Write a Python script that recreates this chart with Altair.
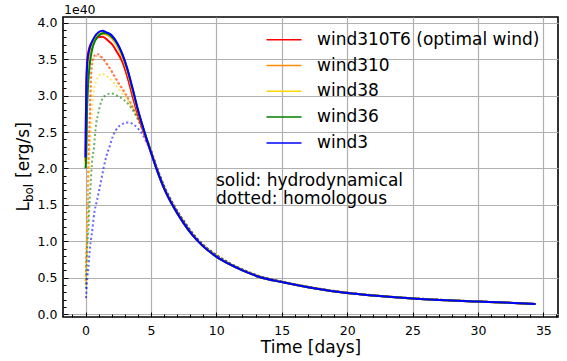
import altair as alt
import pandas as pd

names = ["wind310T6 (optimal wind)", "wind310", "wind38", "wind36", "wind3"]
colors = ["#ff0000", "#ff8c00", "#ffd700", "#008000", "#0000ff"]

# late-time part shared by all models (days, 1e40 erg/s)
t_late = [5.5, 6.0, 6.7, 7.5, 8.2, 9.0, 10, 11, 12, 13.3, 15, 17, 20, 22, 25, 28, 30, 32, 34.4]
L_late_hydro = [1.96, 1.73, 1.48, 1.25, 1.08, 0.93, 0.79, 0.685, 0.60, 0.51, 0.44, 0.37, 0.29, 0.255, 0.215, 0.187, 0.172, 0.158, 0.138]
L_late_homol = [1.99, 1.76, 1.51, 1.28, 1.105, 0.95, 0.81, 0.70, 0.612, 0.52, 0.448, 0.375, 0.295, 0.258, 0.218, 0.189, 0.174, 0.159, 0.139]

# hydrodynamical (solid), early part
red_t = [0, 0.03, 0.07, 0.12, 0.2, 0.3, 0.45, 0.7, 0.95, 1.3, 1.7, 2.0, 2.4, 2.8, 3.2, 3.6, 4.0, 4.5, 5.0]
red_L = [2.10, 2.70, 3.20, 3.45, 3.58, 3.66, 3.72, 3.77, 3.80, 3.81, 3.76, 3.71, 3.60, 3.47, 3.26, 2.99, 2.74, 2.47, 2.22]
orange_t = [0, 0.04, 0.08, 0.14, 0.25, 0.4, 0.6, 0.9, 1.25, 1.6, 2.0, 2.4, 2.8, 3.2, 3.6, 4.0, 4.5, 5.0]
orange_L = [2.10, 2.40, 2.90, 3.25, 3.50, 3.65, 3.75, 3.82, 3.85, 3.84, 3.79, 3.69, 3.54, 3.33, 3.06, 2.79, 2.50, 2.23]
yellow_t = [0, 0.05, 0.1, 0.17, 0.28, 0.45, 0.7, 1.0, 1.3, 1.6, 2.0, 2.4, 2.8, 3.2, 3.6, 4.0, 4.5, 5.0]
yellow_L = [2.05, 2.30, 2.80, 3.20, 3.45, 3.63, 3.76, 3.83, 3.86, 3.85, 3.80, 3.70, 3.55, 3.34, 3.07, 2.80, 2.50, 2.23]
green_t = [0, 0.06, 0.12, 0.2, 0.32, 0.5, 0.75, 1.05, 1.4, 1.7, 2.0, 2.4, 2.8, 3.2, 3.6, 4.0, 4.5, 5.0]
green_L = [2.00, 2.20, 2.80, 3.15, 3.42, 3.63, 3.76, 3.83, 3.86, 3.85, 3.81, 3.72, 3.57, 3.36, 3.09, 2.81, 2.51, 2.23]
blue_t = [0, 0.03, 0.07, 0.12, 0.2, 0.3, 0.45, 0.7, 1.0, 1.3, 1.6, 2.0, 2.4, 2.8, 3.2, 3.6, 4.0, 4.5, 5.0]
blue_L = [2.15, 2.70, 3.15, 3.40, 3.55, 3.64, 3.72, 3.81, 3.87, 3.89, 3.87, 3.83, 3.73, 3.58, 3.37, 3.10, 2.81, 2.50, 2.22]

# homologous (dotted), early part
red_h_t = [0.02, 0.06, 0.1, 0.18, 0.25, 0.33, 0.43, 0.56, 0.75, 0.94, 1.32, 1.7, 2.09, 2.47, 2.98, 3.5, 4.0, 4.5, 5.0]
red_h_L = [0.45, 0.80, 0.95, 1.64, 2.20, 2.73, 3.30, 3.50, 3.56, 3.57, 3.51, 3.42, 3.31, 3.19, 3.05, 2.88, 2.70, 2.48, 2.25]
orange_h_t = [0.02, 0.06, 0.1, 0.18, 0.25, 0.33, 0.43, 0.56, 0.75, 0.94, 1.32, 1.7, 2.09, 2.47, 2.98, 3.5, 4.0, 4.5, 5.0]
orange_h_L = [0.40, 0.75, 0.92, 1.60, 2.15, 2.68, 3.25, 3.47, 3.54, 3.55, 3.50, 3.41, 3.30, 3.18, 3.04, 2.87, 2.69, 2.47, 2.25]
yellow_h_t = [0.03, 0.08, 0.13, 0.2, 0.3, 0.43, 0.58, 0.84, 1.22, 1.7, 2.2, 2.72, 3.24, 3.7, 4.2, 4.7, 5.0]
yellow_h_L = [0.45, 0.80, 1.27, 1.70, 2.14, 2.55, 2.98, 3.21, 3.30, 3.26, 3.17, 3.05, 2.94, 2.80, 2.62, 2.40, 2.25]
green_h_t = [0.03, 0.07, 0.12, 0.23, 0.3, 0.4, 0.48, 0.64, 0.81, 0.94, 1.2, 1.5, 1.96, 2.6, 3.24, 3.75, 4.2, 4.7, 5.0]
green_h_L = [0.35, 0.57, 0.87, 1.20, 1.51, 1.80, 2.05, 2.28, 2.61, 2.73, 2.92, 3.00, 3.03, 2.98, 2.89, 2.76, 2.60, 2.40, 2.25]
blue_h_t = [0.04, 0.07, 0.1, 0.15, 0.23, 0.28, 0.35, 0.43, 0.54, 0.61, 0.69, 0.81, 0.94, 1.07, 1.2, 1.4, 1.58, 1.84, 2.09, 2.34, 2.72, 3.24, 3.62, 4.0, 4.38, 4.64, 5.0]
blue_h_L = [0.22, 0.30, 0.40, 0.52, 0.65, 0.78, 0.92, 1.04, 1.18, 1.30, 1.41, 1.51, 1.61, 1.72, 1.84, 2.02, 2.16, 2.30, 2.44, 2.53, 2.60, 2.63, 2.61, 2.55, 2.46, 2.37, 2.24]

x_major = [0, 5, 10, 15, 20, 25, 30, 35]
x_minor = list(range(-1, 37))
y_major = [0.0, 0.5, 1.0, 1.5, 2.0, 2.5, 3.0, 3.5, 4.0]
y_minor = [round(0.1 * k, 1) for k in range(41)]

note = "solid: hydrodynamical\ndotted: homologous"
offset_label = "1e40"

W, H = 495, 300
FONT = "DejaVu Sans"
BIG = 17


def series(name, t_early, L_early, L_late):
    t = list(t_early) + t_late
    L = list(L_early) + L_late
    return pd.DataFrame({"name": name, "t": t, "L": L, "i": range(len(t))})


hydro = pd.concat([
    series(names[0], red_t, red_L, L_late_hydro),
    series(names[1], orange_t, orange_L, L_late_hydro),
    series(names[2], yellow_t, yellow_L, L_late_hydro),
    series(names[3], green_t, green_L, L_late_hydro),
    series(names[4], blue_t, blue_L, L_late_hydro),
])
homol = pd.concat([
    series(names[0], red_h_t, red_h_L, L_late_homol),
    series(names[1], orange_h_t, orange_h_L, L_late_homol),
    series(names[2], yellow_h_t, yellow_h_L, L_late_homol),
    series(names[3], green_h_t, green_h_L, L_late_homol),
    series(names[4], blue_h_t, blue_h_L, L_late_homol),
])

xs = alt.Scale(domain=[-1.72, 36.12], nice=False, zero=False)
ys = alt.Scale(domain=[-0.04, 4.08], nice=False, zero=False)
cs = alt.Scale(domain=names, range=colors)

x_main = alt.Axis(orient="bottom", values=x_major, grid=True, ticks=False, domain=False,
                  labelPadding=7, labelFontSize=12.5, labelColor="black", labelFlush=False,
                  title="Time [days]", titleFontSize=BIG, titleFontWeight="normal",
                  titleColor="black", titlePadding=3, gridColor="#b0b0b0", gridWidth=1.2)
y_main = alt.Axis(orient="left", values=y_major, format=".1f", grid=True, ticks=False,
                  domain=False, labelPadding=6, labelFontSize=12.5, labelColor="black",
                  labelFlush=False, title=None, gridColor="#b0b0b0", gridWidth=1.2)
x_ticks = alt.Axis(orient="top", offset=-H, values=x_minor, labels=False, grid=False,
                   domain=False, ticks=True, tickColor="black", tickWidth=1, title=None,
                   tickSize={"condition": {"test": "datum.value % 5 === 0", "value": 5}, "value": 3})
y_ticks = alt.Axis(orient="right", offset=-W, values=y_minor, labels=False, grid=False,
                   domain=False, ticks=True, tickColor="black", tickWidth=1, title=None,
                   tickSize={"condition": {"test": "abs(datum.value*2 - round(datum.value*2)) < 0.001",
                                           "value": 5}, "value": 3})


def make_legend():
    return alt.Legend(orient="none", legendX=212.5, legendY=14.2, title=None,
                      symbolType="M-2.5,0H2.5", symbolSize=196, symbolStrokeWidth=1.5,
                      symbolDash=[40, 0], labelFontSize=BIG, labelOffset=24.5, rowPadding=7.8,
                      padding=0, labelLimit=400, labelColor="black", labelFont=FONT,
                      symbolOpacity=1)


dotted = alt.Chart(homol).mark_line(strokeDash=[2, 2.5], strokeWidth=2, opacity=0.6,
                                    interpolate="monotone").encode(
    x=alt.X("t:Q", scale=xs, axis=x_ticks),
    y=alt.Y("L:Q", scale=ys, axis=y_ticks),
    color=alt.Color("name:N", scale=cs, legend=make_legend()),
    order="i:Q",
)

solid = alt.Chart(hydro).mark_line(strokeWidth=2, interpolate="monotone").encode(
    x=alt.X("t:Q", scale=xs, axis=x_main),
    y=alt.Y("L:Q", scale=ys, axis=y_main),
    color=alt.Color("name:N", scale=cs, legend=make_legend()),
    order="i:Q",
)

note_layer = alt.Chart(pd.DataFrame({"txt": [note]})).mark_text(
    align="left", baseline="alphabetic", fontSize=BIG, lineBreak="\n", lineHeight=18.5,
    font=FONT, color="black").encode(x=alt.value(153), y=alt.value(168.7), text="txt:N")

off_layer = alt.Chart(pd.DataFrame({"txt": [offset_label]})).mark_text(
    align="left", baseline="alphabetic", fontSize=12.5, font=FONT, color="black").encode(
    x=alt.value(1), y=alt.value(-3.5), text="txt:N")

ylab_L = alt.Chart(pd.DataFrame({"txt": ["L"]})).mark_text(
    align="left", baseline="alphabetic", angle=270, fontSize=BIG, font=FONT, color="black").encode(
    x=alt.value(-34), y=alt.value(194.5), text="txt:N")
ylab_sub = alt.Chart(pd.DataFrame({"txt": ["bol"]})).mark_text(
    align="left", baseline="alphabetic", angle=270, fontSize=11.9, font=FONT, color="black").encode(
    x=alt.value(-30.5), y=alt.value(185.0), text="txt:N")
ylab_unit = alt.Chart(pd.DataFrame({"txt": ["[erg/s]"]})).mark_text(
    align="left", baseline="alphabetic", angle=270, fontSize=BIG, font=FONT, color="black").encode(
    x=alt.value(-34), y=alt.value(161.0), text="txt:N")

chart = alt.layer(
    dotted, solid, note_layer, off_layer, ylab_L, ylab_sub, ylab_unit
).resolve_axis(x="independent", y="independent").properties(
    width=W, height=H,
    padding={"left": 63, "top": 17, "right": 9, "bottom": 44},
    autosize=alt.AutoSizeParams(type="none"),
    background="white",
).configure(font=FONT).configure_view(stroke="black", strokeWidth=1.6)

chart.save("out.html", embed_options={"renderer": "svg", "actions": False})
